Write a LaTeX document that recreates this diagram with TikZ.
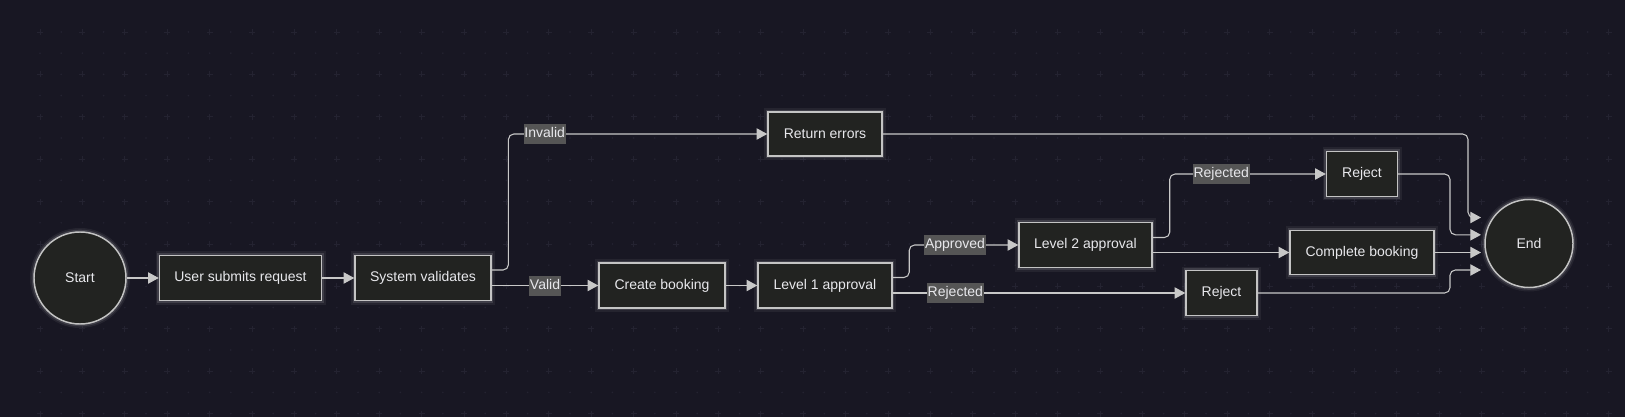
\documentclass[tikz,border=0pt]{standalone}
\usepackage{fontspec}
\setmainfont{Liberation Sans}
\usetikzlibrary{arrows.meta,calc}
\definecolor{bg}{RGB}{24,23,35}
\definecolor{gridc}{RGB}{36,35,49}
\definecolor{nodefill}{RGB}{34,35,33}
\definecolor{nodeborder}{RGB}{196,196,196}
\definecolor{edgec}{RGB}{200,200,200}
\definecolor{lblfill}{RGB}{85,85,85}
\definecolor{txt}{RGB}{232,232,236}
\begin{document}
\begin{tikzpicture}[x=0.75pt,y=-0.75pt,
  glow/.style={preaction={draw=white,draw opacity=0.06,line width=6pt},
               preaction={draw=white,draw opacity=0.12,line width=3.5pt}},
  txtfont/.style={font=\fontsize{10.5}{12}\selectfont},
  box/.style={draw=nodeborder,fill=nodefill,line width=1.1pt,text=txt,txtfont,
              inner sep=0pt,minimum height=33.75pt,glow},
  term/.style={circle,draw=nodeborder,fill=nodefill,line width=1.1pt,text=txt,txtfont,
              inner sep=0pt,glow},
  edge/.style={draw=edgec,line width=0.8pt,rounded corners=4pt,
              -{Triangle[length=8pt,width=8.5pt]}},
  lbl/.style={fill=lblfill,text=txt,txtfont,inner xsep=0.5pt,inner ysep=2.25pt,
              text height=8pt,text depth=2.5pt,rounded corners=0pt},
]
\useasboundingbox (0,0) rectangle (1625,417);
\fill[bg] (0,0) rectangle (1625,417);
% background grid
\foreach \i in {0,...,37}{
  \foreach \j in {0,...,9}{
    \draw[gridc,line width=0.6pt] ({40+42.4*\i-3},{32+42.4*\j}) -- ++(6,0)
      ({40+42.4*\i},{32+42.4*\j-3}) -- ++(0,6);
    \fill[gridc] ({61.2+42.4*\i},{32+42.4*\j}) circle (0.9);
    \fill[gridc] ({40+42.4*\i},{53.2+42.4*\j}) circle (0.9);
    \fill[gridc] ({61.2+42.4*\i},{53.2+42.4*\j}) circle (0.9);
  }
}
% nodes
\node[term,minimum size=69pt] (start) at (80,278) {Start};
\node[box,minimum width=121.5pt] (user) at (240.5,278) {User submits request};
\node[box,minimum width=102pt] (sys) at (423,278) {System validates};
\node[box,minimum width=85.5pt,minimum height=33pt] (ret) at (825,134) {Return errors};
\node[box,minimum width=94.5pt] (create) at (662,285.5) {Create booking};
\node[box,minimum width=100.5pt] (lone) at (825,285.5) {Level 1 approval};
\node[box,minimum width=99.75pt] (ltwo) at (1085.5,245) {Level 2 approval};
\node[box,minimum width=53.25pt] (rjone) at (1362,174) {Reject};
\node[box,minimum width=108pt,minimum height=33pt] (comp) at (1362,252.5) {Complete booking};
\node[box,minimum width=53.25pt] (rjtwo) at (1221.5,293) {Reject};
\node[term,minimum size=66pt] (end) at (1529,243.5) {End};
% end entry points
\coordinate (e1) at ($(end.center)+(-48,-26)$);
\coordinate (e2) at ($(end.center)+(-48,-8.7)$);
\coordinate (e3) at ($(end.center)+(-48,9)$);
\coordinate (e4) at ($(end.center)+(-48,26.5)$);
% edges
\draw[edge] (start) -- (user);
\draw[edge] (user) -- (sys);
\draw[edge] ($(sys.east)+(0,-8)$) -- ++(16.7,0) |- node[lbl,pos=0.57] (linvalid) {Invalid} (ret.west);
\draw[edge] ($(sys.east)+(0,7.5)$) -- node[lbl,pos=0.5] (lvalid) {Valid} (create.west |- {$(sys.east)+(0,7.5)$});
\draw[edge] (create) -- (lone);
\draw[edge] ($(lone.east)+(0,-8)$) -- ++(16.5,0) |- node[lbl,pos=0.71] (lapp) {Approved} (ltwo.west);
\draw[edge] ($(lone.east)+(0,7.5)$) -- node[lbl,pos=0.214] (lrej1) {Rejected} (rjtwo.west |- {$(lone.east)+(0,7.5)$});
\draw[edge] ($(ltwo.east)+(0,-7.5)$) -- ++(17,0) |- node[lbl,pos=0.665] (lrej2) {Rejected} (rjone.west);
\draw[edge] ($(ltwo.east)+(0,7.5)$) -- (comp.west |- {$(ltwo.east)+(0,7.5)$});
\draw[edge] (ret.east) -| ($(e1)+(-13,0)$) -- (e1);
\draw[edge] (rjone.east) -| ($(e2)+(-31,0)$) -- (e2);
\draw[edge] (comp.east |- e3) -- (e3);
\draw[edge] (rjtwo.east) -| ($(e4)+(-31,0)$) -- (e4);
\end{tikzpicture}
\end{document}
